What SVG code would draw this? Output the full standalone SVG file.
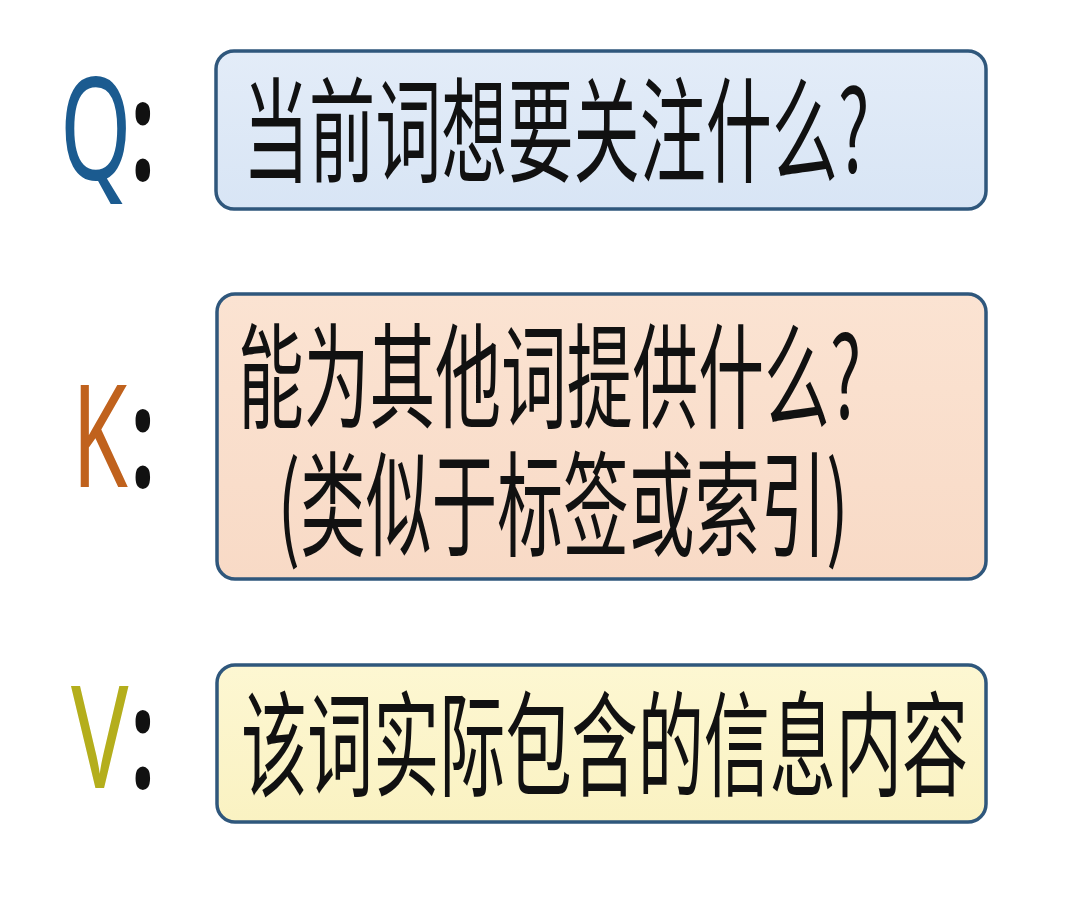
<svg xmlns="http://www.w3.org/2000/svg" width="1080" height="897" viewBox="0 0 1080 897">
<style>
.box{stroke:#2f577c;stroke-width:3.5}
.lbl{font-family:"Noto Sans","Open Sans","DejaVu Sans",sans-serif;font-size:143px}
.col{font-family:"Noto Sans","DejaVu Sans",sans-serif;font-size:140px;font-weight:bold;fill:#111}
.t{font-family:"Noto Sans CJK SC","Noto Sans",sans-serif;font-size:114px;fill:#111}
</style>
<defs>
<linearGradient id="gq" x1="0" y1="0" x2="0" y2="1"><stop offset="0" stop-color="#e3ecf8"/><stop offset="1" stop-color="#d8e5f5"/></linearGradient>
<linearGradient id="gk" x1="0" y1="0" x2="0" y2="1"><stop offset="0" stop-color="#fbe3d2"/><stop offset="1" stop-color="#f8dac6"/></linearGradient>
<linearGradient id="gv" x1="0" y1="0" x2="0" y2="1"><stop offset="0" stop-color="#fdf7d2"/><stop offset="1" stop-color="#faf2c2"/></linearGradient>
</defs>
<rect width="1080" height="897" fill="#ffffff"/>
<g id="q">
<rect class="box" x="216" y="51" width="770" height="158" rx="18" fill="url(#gq)"/>
<text class="lbl" transform="translate(60,180) scale(0.64,1)" fill="#1b5b90">Q</text>
<text class="col" transform="translate(131,180) scale(0.6,1)">:</text>
<text class="t" transform="translate(243,173) scale(0.58,1)">当前词想要关注什么?</text>
</g>
<g id="k">
<rect class="box" x="217" y="294" width="769" height="285" rx="18" fill="url(#gk)"/>
<text class="lbl" transform="translate(72,487) scale(0.63,1)" fill="#c0621d">K</text>
<text class="col" transform="translate(131,487) scale(0.6,1)">:</text>
<text class="t" transform="translate(238,419) scale(0.577,1)"><tspan x="0" y="0">能为其他词提供什么?</tspan><tspan x="69" y="128">(类似于标签或索引)</tspan></text>
</g>
<g id="v">
<rect class="box" x="217" y="665" width="769" height="157" rx="18" fill="url(#gv)"/>
<text class="lbl" transform="translate(71,788) scale(0.67,1)" fill="#b4ae1c">V</text>
<text class="col" transform="translate(131,788) scale(0.6,1)">:</text>
<text class="t" transform="translate(241,787) scale(0.58,1)">该词实际包含的信息内容</text>
</g>
</svg>
